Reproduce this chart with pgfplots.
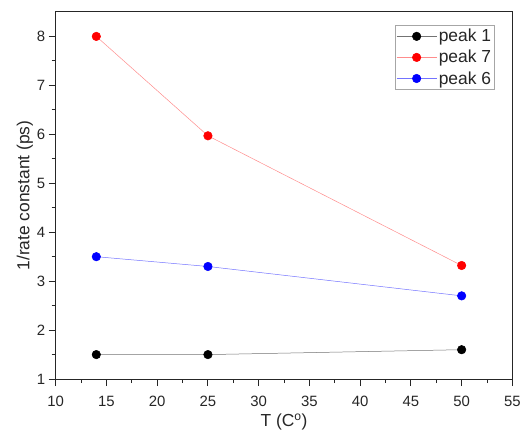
\documentclass[border=0pt]{standalone}
\usepackage{fontspec}
\setmainfont{Liberation Sans}
\usepackage{pgfplots}
\pgfplotsset{compat=1.18}
\begin{document}
\begin{tikzpicture}
\begin{axis}[
  scale only axis,
  width=459pt, height=369pt,
  xmin=10, xmax=55, ymin=1, ymax=8.5,
  xtick={10,15,...,55}, ytick={1,2,...,8},
  minor x tick num=1, minor y tick num=1,
  tick pos=left, tick align=outside,
  major tick length=7pt, minor tick length=4pt,
  axis line style={line width=1.1pt, black!85},
  tick style={line width=0.9pt, black!85},
  /pgf/number format/assume math mode=true,
  ticklabel style={font=\fontsize{15}{16}\selectfont, text=black!85},
  xticklabel style={yshift=-7pt},
  yticklabel style={xshift=0pt},
  xlabel={T (C\textsuperscript{o})},
  ylabel={1/rate constant (ps)},
  label style={font=\fontsize{17.5}{18}\selectfont, text=black!85},
  xlabel style={yshift=0pt},
  ylabel style={yshift=-3pt},
  legend style={at={(rel axis cs:0.9608,0.9648)}, anchor=north east,
    draw=black!35, line width=0.9pt, font=\fontsize{17.5}{18}\selectfont,
    inner xsep=1pt, inner ysep=2pt, row sep=3pt, text=black!85},
  legend cell align=left,
  legend image code/.code={\draw[mark repeat=2,mark phase=2,#1] plot coordinates {(0pt,0pt) (20pt,0pt) (40pt,0pt)};},
]
\addplot[black!55, line width=0.5pt, mark=*, mark size=4.3pt, mark options={fill=black, draw=black}]
  coordinates {(14,1.5) (25,1.5) (50,1.6)};
\addlegendentry{peak 1}
\addplot[red!45, line width=0.5pt, mark=*, mark size=4.3pt, mark options={fill=red, draw=red}]
  coordinates {(14,8.0) (25,5.97) (50,3.32)};
\addlegendentry{peak 7}
\addplot[blue!55, line width=0.5pt, mark=*, mark size=4.3pt, mark options={fill=blue, draw=blue}]
  coordinates {(14,3.5) (25,3.3) (50,2.7)};
\addlegendentry{peak 6}
\end{axis}
\path[use as bounding box] (-56pt,-49pt) rectangle (468pt,381pt);
\end{tikzpicture}
\end{document}
